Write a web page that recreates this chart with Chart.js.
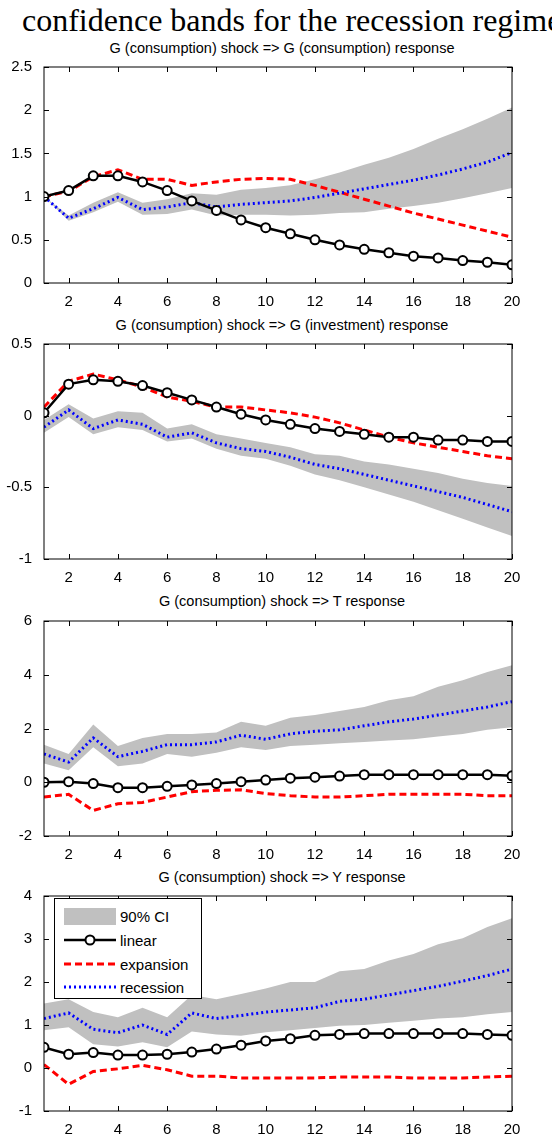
<!DOCTYPE html>
<html><head><meta charset="utf-8">
<script src="https://cdn.jsdelivr.net/npm/chart.js@4"></script>
<style>
body{margin:0;width:552px;height:1137px;background:#fff;position:relative;overflow:hidden;font-family:"Liberation Sans",Arial,sans-serif}
.c{position:absolute;left:0;width:552px}
.t{position:absolute;left:0;width:564px;text-align:center;font-size:14.5px;color:#000}
#head{position:absolute;left:22px;top:2px;white-space:nowrap;font-family:"Liberation Serif","Times New Roman",serif;font-size:32px;color:#000}
#leg{position:absolute;left:54px;top:898px;width:146px;height:99px;border:1px solid #000;background:#fff;font-size:15px}
</style></head><body>
<div id="head">confidence bands for the recession regime</div>
<div class="t" style="top:40px">G (consumption) shock =&gt; G (consumption) response</div>
<div class="t" style="top:317px">G (consumption) shock =&gt; G (investment) response</div>
<div class="t" style="top:593px">G (consumption) shock =&gt; T response</div>
<div class="t" style="top:869px">G (consumption) shock =&gt; Y response</div>
<div class="c" style="top:54px;height:259px"><canvas id="c1"></canvas></div>
<div class="c" style="top:331px;height:258px"><canvas id="c2"></canvas></div>
<div class="c" style="top:608px;height:258px"><canvas id="c3"></canvas></div>
<div class="c" style="top:883px;height:258px"><canvas id="c4"></canvas></div>
<div id="leg">
<svg width="146" height="99" style="position:absolute;left:0;top:0">
<rect x="9" y="9" width="52" height="17" fill="#c0c0c0"/>
<line x1="9" y1="41" x2="61" y2="41" stroke="#000" stroke-width="2.5"/>
<circle cx="35" cy="41" r="4.5" fill="#fff" stroke="#000" stroke-width="2"/>
<line x1="9" y1="65" x2="61" y2="65" stroke="#f00" stroke-width="3" stroke-dasharray="7,4"/>
<line x1="9" y1="88" x2="61" y2="88" stroke="#00f" stroke-width="3" stroke-dasharray="2,3"/>
<text x="65" y="23" font-size="15" font-family="Liberation Sans">90% CI</text>
<text x="65" y="47" font-size="15" font-family="Liberation Sans">linear</text>
<text x="65" y="71" font-size="15" font-family="Liberation Sans">expansion</text>
<text x="65" y="94" font-size="15" font-family="Liberation Sans">recession</text>
</svg></div>
<script>
const horizons=[1,2,3,4,5,6,7,8,9,10,11,12,13,14,15,16,17,18,19,20];
const xTicks=[2,4,6,8,10,12,14,16,18,20];

const gcLinear=[1,1.07,1.24,1.24,1.17,1.07,0.95,0.84,0.73,0.64,0.57,0.50,0.44,0.39,0.35,0.31,0.29,0.26,0.24,0.21];
const gcExp=[1.0,1.06,1.23,1.31,1.2,1.2,1.13,1.17,1.2,1.21,1.2,1.13,1.05,0.97,0.89,0.81,0.74,0.67,0.6,0.53];
const gcRec=[1.0,0.75,0.86,0.99,0.85,0.88,0.93,0.88,0.91,0.93,0.95,0.99,1.04,1.09,1.14,1.19,1.25,1.32,1.4,1.51];
const gcUp=[1.0,0.78,0.93,1.05,0.93,0.97,1.04,1.02,1.08,1.1,1.13,1.2,1.28,1.37,1.45,1.55,1.67,1.78,1.9,2.03];
const gcLo=[1.0,0.72,0.82,0.94,0.79,0.8,0.85,0.78,0.79,0.79,0.78,0.79,0.81,0.82,0.86,0.89,0.93,0.98,1.04,1.1];

const giLinear=[0.02,0.22,0.25,0.24,0.21,0.16,0.11,0.06,0.01,-0.03,-0.06,-0.09,-0.11,-0.13,-0.15,-0.15,-0.17,-0.17,-0.18,-0.18];
const giExp=[0.06,0.24,0.29,0.25,0.2,0.13,0.1,0.06,0.06,0.04,0.02,-0.01,-0.05,-0.1,-0.15,-0.19,-0.22,-0.25,-0.28,-0.3];
const giRec=[-0.08,0.04,-0.09,-0.03,-0.06,-0.15,-0.12,-0.19,-0.23,-0.25,-0.29,-0.34,-0.37,-0.41,-0.45,-0.49,-0.53,-0.57,-0.62,-0.67];
const giUp=[-0.03,0.08,-0.02,0.03,0.02,-0.09,-0.06,-0.13,-0.16,-0.19,-0.22,-0.27,-0.28,-0.32,-0.34,-0.37,-0.4,-0.44,-0.47,-0.49];
const giLo=[-0.12,-0.01,-0.13,-0.08,-0.1,-0.18,-0.16,-0.23,-0.28,-0.3,-0.35,-0.41,-0.45,-0.5,-0.55,-0.6,-0.66,-0.72,-0.78,-0.84];

const tLinear=[0,0.02,-0.05,-0.2,-0.2,-0.15,-0.1,-0.05,0.02,0.08,0.15,0.19,0.23,0.28,0.28,0.28,0.28,0.28,0.28,0.24];
const tExp=[-0.55,-0.45,-1.05,-0.8,-0.75,-0.55,-0.35,-0.3,-0.28,-0.42,-0.5,-0.55,-0.55,-0.5,-0.45,-0.45,-0.45,-0.45,-0.5,-0.5];
const tRec=[1.05,0.75,1.65,0.95,1.15,1.4,1.4,1.5,1.75,1.6,1.8,1.9,1.95,2.1,2.25,2.35,2.5,2.65,2.8,3.0];
const tUp=[1.4,1.05,2.15,1.35,1.65,1.8,1.8,1.85,2.25,2.1,2.4,2.5,2.65,2.8,3.05,3.2,3.55,3.8,4.1,4.35];
const tLo=[0.7,0.45,1.3,0.6,0.7,1.05,0.95,1.1,1.3,1.2,1.35,1.4,1.45,1.5,1.55,1.6,1.7,1.8,1.95,2.05];

const yLinear=[0.48,0.32,0.36,0.3,0.3,0.32,0.37,0.44,0.53,0.63,0.68,0.76,0.78,0.8,0.8,0.8,0.8,0.8,0.78,0.76];
const yExp=[0.08,-0.38,-0.08,-0.02,0.06,-0.04,-0.19,-0.19,-0.23,-0.23,-0.23,-0.23,-0.21,-0.21,-0.21,-0.23,-0.23,-0.23,-0.21,-0.19];
const yRec=[1.15,1.28,0.9,0.82,1.0,0.78,1.28,1.15,1.22,1.3,1.35,1.4,1.55,1.6,1.7,1.8,1.9,2.02,2.15,2.3];
const yUp=[1.5,1.6,1.3,1.18,1.4,1.18,1.7,1.6,1.72,1.85,2.0,2.0,2.25,2.3,2.5,2.65,2.88,3.02,3.28,3.48];
const yLo=[0.88,0.95,0.55,0.5,0.6,0.48,0.85,0.78,0.75,0.83,0.88,0.93,0.98,1.0,1.05,1.1,1.15,1.18,1.25,1.3];

const xy=a=>a.map((v,i)=>({x:horizons[i],y:v}));
const frame={id:'frame',afterDatasetsDraw(ch){
  const {ctx,chartArea:a,scales:{x,y}}=ch;ctx.save();ctx.strokeStyle='#000';ctx.lineWidth=1;
  ctx.strokeRect(a.left,a.top,a.right-a.left,a.bottom-a.top);
  ctx.beginPath();
  x.ticks.forEach(t=>{const p=Math.round(x.getPixelForValue(t.value))+0.5;ctx.moveTo(p,a.bottom);ctx.lineTo(p,a.bottom-5);ctx.moveTo(p,a.top);ctx.lineTo(p,a.top+5);});
  y.ticks.forEach(t=>{const p=Math.round(y.getPixelForValue(t.value))+0.5;ctx.moveTo(a.left,p);ctx.lineTo(a.left+5,p);ctx.moveTo(a.right,p);ctx.lineTo(a.right-5,p);});
  ctx.stroke();ctx.restore();}};
function make(id,lin,exp,rec,up,lo,ymin,ymax,step){
  new Chart(document.getElementById(id),{type:'line',
    data:{datasets:[
      {data:xy(up),borderWidth:0,pointRadius:0,fill:'+1',backgroundColor:'#c0c0c0',borderColor:'#c0c0c0',order:10},
      {data:xy(lo),borderWidth:0,pointRadius:0,fill:false,borderColor:'#c0c0c0',order:11},
      {data:xy(exp),borderColor:'#ff0000',borderWidth:3,borderDash:[7,4],pointRadius:0,fill:false,order:3},
      {data:xy(rec),borderColor:'#0000ff',borderWidth:3,borderDash:[2,3],pointRadius:0,fill:false,order:2},
      {data:xy(lin),borderColor:'#000',borderWidth:2.5,pointRadius:4.5,pointBorderWidth:2,pointBackgroundColor:'#fff',pointBorderColor:'#000',fill:false,order:1}
    ]},
    options:{responsive:true,maintainAspectRatio:false,animation:false,
      layout:{padding:{top:6,right:40,left:0,bottom:0}},
      plugins:{legend:{display:false},tooltip:{enabled:false}},
      scales:{
        x:{type:'linear',min:1,max:20,afterBuildTicks:s=>{s.ticks=xTicks.map(v=>({value:v}));},
           afterFit:s=>{s.height=30;},grid:{display:false},border:{display:false},
           ticks:{color:'#000',font:{family:'Liberation Sans',size:15},padding:2,maxRotation:0,autoSkip:false}},
        y:{min:ymin,max:ymax,afterFit:s=>{s.width=44;},grid:{display:false},border:{display:false},
           ticks:{stepSize:step,color:'#000',font:{family:'Liberation Sans',size:15},padding:4,callback:v=>String(Math.round(v*10)/10)}}
      }},
    plugins:[frame]});
}
make('c1',gcLinear,gcExp,gcRec,gcUp,gcLo,0,2.5,0.5);
make('c2',giLinear,giExp,giRec,giUp,giLo,-1,0.5,0.5);
make('c3',tLinear,tExp,tRec,tUp,tLo,-2,6,2);
make('c4',yLinear,yExp,yRec,yUp,yLo,-1,4,1);
</script></body></html>
